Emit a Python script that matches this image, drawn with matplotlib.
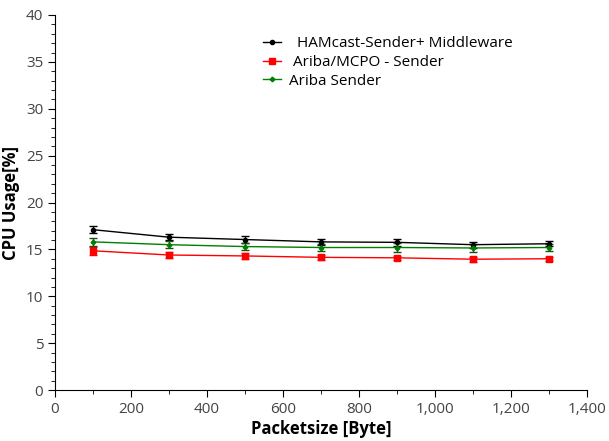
import matplotlib
matplotlib.use("Agg")
import matplotlib.pyplot as plt
from matplotlib.ticker import MultipleLocator, FuncFormatter
from matplotlib.lines import Line2D

plt.rcParams['font.family'] = ['Open Sans', 'DejaVu Sans']

packetsize = [100, 300, 500, 700, 900, 1100, 1300]
hamcast = [17.1, 16.3, 16.05, 15.8, 15.75, 15.5, 15.6]
hamcast_err = [0.4, 0.35, 0.35, 0.35, 0.4, 0.3, 0.25]
mcpo = [14.85, 14.4, 14.3, 14.15, 14.1, 13.95, 14.0]
mcpo_err = [0.4, 0.3, 0.35, 0.3, 0.2, 0.25, 0.2]
ariba = [15.8, 15.5, 15.3, 15.2, 15.2, 15.15, 15.2]
ariba_err = [0.4, 0.4, 0.35, 0.35, 0.5, 0.4, 0.4]
labels = ['  HAMcast-Sender+ Middleware', ' Ariba/MCPO - Sender', 'Ariba Sender']

fig = plt.figure(figsize=(6.09, 4.41), dpi=100)
ax = fig.add_axes([55/609, 51/441, 532/609, 375/441])

ax.errorbar(packetsize, hamcast, yerr=hamcast_err, color='black', marker='o', ms=3,
            lw=1, capsize=3)
ax.errorbar(packetsize, mcpo, yerr=mcpo_err, color='red', marker='s', ms=4,
            lw=1, capsize=3)
ax.errorbar(packetsize, ariba, yerr=ariba_err, color='green', marker='P', ms=3,
            lw=1, capsize=3, ecolor='#1a4d1a')

handles = [Line2D([], [], color='black', marker='o', ms=3, lw=1),
           Line2D([], [], color='red', marker='s', ms=4, lw=1),
           Line2D([], [], color='green', marker='P', ms=3, lw=1)]

ax.set_xlim(0, 1400)
ax.set_ylim(0, 40)
ax.xaxis.set_major_locator(MultipleLocator(200))
ax.xaxis.set_minor_locator(MultipleLocator(100))
ax.yaxis.set_major_locator(MultipleLocator(5))
ax.yaxis.set_minor_locator(MultipleLocator(1))
ax.xaxis.set_major_formatter(FuncFormatter(lambda v, p: f"{int(v):,}"))
for s in ['top', 'right']:
    ax.spines[s].set_visible(False)
ax.tick_params(axis='both', which='major', labelsize=11, labelcolor='#444444', length=5)
ax.tick_params(axis='both', which='minor', length=3)
ax.set_xlabel('Packetsize [Byte]', fontsize=12, fontweight='bold', labelpad=2)
ax.set_ylabel('CPU Usage[%]', fontsize=12, fontweight='bold', labelpad=4)

ax.legend(handles, labels, loc='upper left', bbox_to_anchor=(0.37, 0.972), frameon=False,
          fontsize=11, handlelength=1.2, handletextpad=0.5, labelspacing=0.25, borderpad=0.2)

fig.savefig('out.png', dpi=100)
